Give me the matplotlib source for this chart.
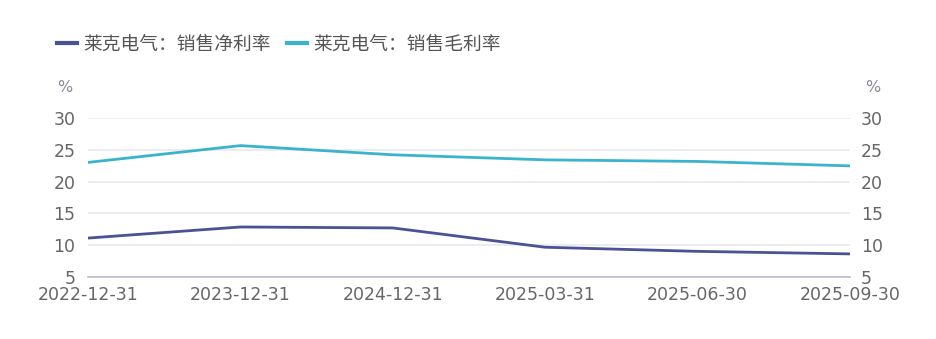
import matplotlib.pyplot as plt
from matplotlib.lines import Line2D

# datos
fechas = ['2022-12-31', '2023-12-31', '2024-12-31', '2025-03-31', '2025-06-30', '2025-09-30']
margen_neto = [11.1, 12.85, 12.7, 9.65, 9.0, 8.6]
margen_bruto = [23.05, 25.7, 24.25, 23.45, 23.2, 22.5]
etiquetas = ['莱克电气：销售净利率', '莱克电气：销售毛利率']
yticks = [5, 10, 15, 20, 25, 30]

color_neto = '#4a5296'
color_bruto = '#3ab3cc'
gris = '#666666'

plt.rcParams['font.family'] = ['Noto Sans CJK SC', 'DejaVu Sans']

fig = plt.figure(figsize=(9.37, 3.39), dpi=100)
ax = fig.add_axes([0.094, 0.1838, 0.813, 0.467])
x = list(range(len(fechas)))

ax.plot(x, margen_neto, color=color_neto, linewidth=2.0, label=etiquetas[0])
ax.plot(x, margen_bruto, color=color_bruto, linewidth=2.0, label=etiquetas[1])

ax.set_xlim(0, len(fechas) - 1)
ax.set_ylim(5, 30)
ax.set_yticks(yticks)
ax.set_xticks(x)
ax.set_xticklabels(fechas, family='DejaVu Sans')
ax.grid(axis='y', color='#e8e8f0', linewidth=1.2)
ax.set_axisbelow(True)
for s in ['top', 'right', 'left']:
    ax.spines[s].set_visible(False)
ax.spines['bottom'].set_color('#b8bccf')
ax.spines['bottom'].set_linewidth(1.2)
ax.tick_params(axis='x', length=0, pad=7, labelsize=12.5, labelcolor=gris)
ax.tick_params(axis='y', length=0, pad=9, labelsize=12.5, labelcolor=gris)
for lab in ax.get_yticklabels():
    lab.set_family('DejaVu Sans')

ax2 = ax.twinx()
ax2.set_ylim(5, 30)
ax2.set_yticks(yticks)
for s in ['top', 'right', 'left', 'bottom']:
    ax2.spines[s].set_visible(False)
ax2.tick_params(axis='y', length=0, pad=8, labelsize=12.5, labelcolor=gris)
for lab in ax2.get_yticklabels():
    lab.set_family('DejaVu Sans')

# unidades
fig.text(65 / 937, 1 - 88 / 339, '%', ha='center', va='center', fontsize=11.5, color='#8a8a99', family='DejaVu Sans')
fig.text(873 / 937, 1 - 88 / 339, '%', ha='center', va='center', fontsize=11.5, color='#8a8a99', family='DejaVu Sans')

handles = [Line2D([], [], color=color_neto, linewidth=3),
           Line2D([], [], color=color_bruto, linewidth=3)]
fig.legend(handles, etiquetas, loc='center left', bbox_to_anchor=(57 / 937, 1 - 44 / 339),
           ncol=2, frameon=False, fontsize=13.5, labelcolor='#555555',
           borderpad=0, borderaxespad=0,
           handlelength=1.05, handletextpad=0.33, columnspacing=0.9)

fig.savefig('out.png', dpi=100)
